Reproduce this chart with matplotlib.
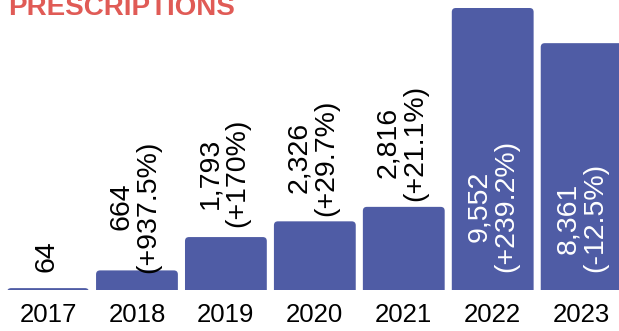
import matplotlib
matplotlib.use("Agg")
import matplotlib.pyplot as plt
from matplotlib.patches import FancyBboxPatch

plt.rcParams["font.family"] = ["Liberation Sans", "DejaVu Sans"]

years = ["2017", "2018", "2019", "2020", "2021", "2022", "2023"]
counts = [64, 664, 1793, 2326, 2816, 9552, 8361]
changes = ["", "+937.5%", "+170%", "+29.7%", "+21.1%", "+239.2%", "-12.5%"]
inside = [False, False, False, False, False, True, True]

BAR_COLOR = "#4f5ca5"
TITLE_COLOR = "#e05b56"
W, H, DPI = 619, 331, 100

fig = plt.figure(figsize=(W / DPI, H / DPI), dpi=DPI)
ax = fig.add_axes([0, 41 / H, 1, 290 / H])

x = list(range(len(years)))
bars = ax.bar(x, counts, width=0.92, color=BAR_COLOR)
ax.set_xlim(-0.54, 6.42)
ax.set_ylim(0, 9823)

# swap plain rectangles for ones with rounded tops (bottom hidden under the axis)
px_x = 0.54 / 48
px_y = 9823 / 290
r = 4
for rect in bars:
    bx, bw, bh = rect.get_x(), rect.get_width(), rect.get_height()
    rect.set_visible(False)
    ext = 12 * px_y
    patch = FancyBboxPatch((bx, -ext), bw, bh + ext,
                           boxstyle=f"round,pad=0,rounding_size={r * px_x}",
                           mutation_aspect=px_y / px_x,
                           facecolor=BAR_COLOR, edgecolor="none")
    ax.add_patch(patch)

LABEL_SIZE = 20.5
for i, (v, ch, inn) in enumerate(zip(counts, changes, inside)):
    label = f"{v:,}" if not ch else f"{v:,}\n({ch})"
    if inn:
        ax.annotate(label, (i, 0), xytext=(0, 17.5 * 0.72), textcoords="offset points",
                    rotation=90, ha="center", va="bottom", color="white",
                    fontsize=LABEL_SIZE, multialignment="center", linespacing=1.05)
    else:
        up = 31.5 if not ch else 64
        ax.annotate(label, (i, v), xytext=(-2 * 0.72, up * 0.72), textcoords="offset points",
                    rotation=90, ha="center", va="center", color="black",
                    fontsize=LABEL_SIZE, multialignment="center", linespacing=1.05)

ax.set_xticks(x)
ax.set_xticklabels(years, fontsize=18.5)
ax.tick_params(axis="x", length=0, pad=9)
ax.set_yticks([])
for s in ax.spines.values():
    s.set_visible(False)

fig.text(8 / W, 1 - 15 / H, "PRESCRIPTIONS", color=TITLE_COLOR, fontsize=20,
         fontweight="bold", ha="left", va="baseline")

fig.savefig("out.png", dpi=DPI)
